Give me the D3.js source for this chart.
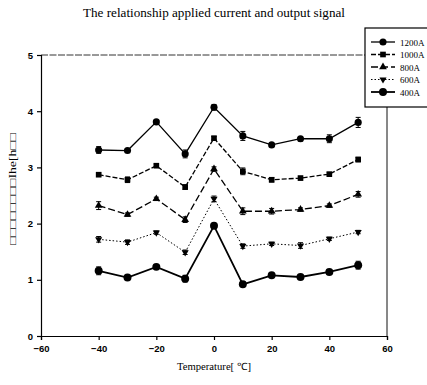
<!DOCTYPE html>
<html lang="en">
<head>
<meta charset="UTF-8">
<title>Applied current and output signal</title>
<script src="https://d3js.org/d3.v7.min.js"></script>
<style>
  body { margin: 0; background: #fff; }
  .tick text { font-family: "Liberation Sans", Arial, sans-serif; font-weight: bold; font-size: 9.5px; fill: #000; }
  .serif { font-family: "Liberation Serif", "Times New Roman", serif; fill: #000; }
</style>
</head>
<body>
<div id="chart"></div>
<script>
const temps = [-40, -30, -20, -10, 0, 10, 20, 30, 40, 50];
const seriesNames = ["1200A", "1000A", "800A", "600A", "400A"];
const s1200 = [3.31, 3.30, 3.81, 3.24, 4.07, 3.56, 3.40, 3.51, 3.51, 3.80];
const s1000 = [2.87, 2.78, 3.03, 2.65, 3.52, 2.93, 2.78, 2.81, 2.88, 3.14];
const s800  = [2.32, 2.16, 2.44, 2.07, 2.97, 2.22, 2.22, 2.25, 2.32, 2.52];
const s600  = [1.72, 1.67, 1.84, 1.49, 2.44, 1.60, 1.64, 1.61, 1.73, 1.85];
const s400  = [1.16, 1.04, 1.23, 1.02, 1.96, 0.92, 1.08, 1.05, 1.14, 1.26];
const e1200 = [0.06, 0.03, 0.03, 0.07, 0.05, 0.08, 0.03, 0.04, 0.07, 0.09];
const e1000 = [0.03, 0.05, 0.03, 0.04, 0.03, 0.06, 0.04, 0.03, 0.03, 0.04];
const e800  = [0.07, 0.03, 0.03, 0.05, 0.04, 0.06, 0.05, 0.03, 0.03, 0.05];
const e600  = [0.05, 0.04, 0.03, 0.04, 0.05, 0.04, 0.03, 0.05, 0.03, 0.03];
const e400  = [0.07, 0.03, 0.03, 0.06, 0.04, 0.04, 0.03, 0.03, 0.04, 0.07];
const xTicks = [-60, -40, -20, 0, 20, 40, 60];
const yTicks = [0, 1, 2, 3, 4, 5];

const values = [s1200, s1000, s800, s600, s400];
const errors = [e1200, e1000, e800, e600, e400];
const dashes = [null, "5,2", "7,3", "1.5,2", null];
const widths = [1.3, 1.3, 1.3, 1, 1.8];
const markers = [d3.symbolCircle, d3.symbolSquare, d3.symbolTriangle, d3.symbolTriangle, d3.symbolCircle];
const markerSize = [40, 32, 26, 22, 50];
const markerRot = [0, 0, 0, 180, 0];

const W = 427, H = 385;
const margin = { top: 55, left: 41, right: 40, bottom: 49 };
const x = d3.scaleLinear().domain([-60, 60]).range([margin.left, W - margin.right]);
const y = d3.scaleLinear().domain([0, 5]).range([H - margin.bottom, margin.top]);

const svg = d3.select("#chart").append("svg").attr("width", W).attr("height", H);

svg.append("text").attr("class", "serif")
  .attr("x", 214).attr("y", 17).attr("text-anchor", "middle")
  .attr("font-size", 11.5).attr("textLength", 262).attr("lengthAdjust", "spacingAndGlyphs")
  .text("The relationship applied current and output signal");

// frame top and right
svg.append("line").attr("x1", x(-60)).attr("x2", x(60)).attr("y1", y(5)).attr("y2", y(5))
  .attr("stroke", "#333").attr("stroke-dasharray", "7,1.5");
svg.append("line").attr("x1", x(60)).attr("x2", x(60)).attr("y1", y(5)).attr("y2", y(0))
  .attr("stroke", "#111");

const xAxis = svg.append("g").attr("transform", `translate(0,${y(0)})`)
  .call(d3.axisBottom(x).tickValues(xTicks).tickFormat(d3.format("d")).tickSize(4).tickPadding(5));
const yAxis = svg.append("g").attr("transform", `translate(${x(-60)},0)`)
  .call(d3.axisLeft(y).tickValues(yTicks).tickFormat(d3.format("d")).tickSize(4).tickPadding(4));
[xAxis, yAxis].forEach(a => { a.select(".domain").attr("stroke-width", 1.2); a.selectAll("line").attr("stroke-width", 1.2); });

svg.append("text").attr("class", "serif")
  .attr("x", 214).attr("y", 370).attr("text-anchor", "middle")
  .attr("font-size", 10).attr("textLength", 74).attr("lengthAdjust", "spacingAndGlyphs")
  .text("Temperature[ ℃]");

svg.append("text").attr("class", "serif")
  .attr("transform", "translate(16,189) rotate(-90)").attr("text-anchor", "middle")
  .attr("font-family", "DejaVu Sans").attr("fill", "#000")
  .attr("font-size", 9.5).attr("textLength", 112).attr("lengthAdjust", "spacingAndGlyphs")
  .text("□□□□□□□□Ihe[h□□");

const line = d3.line().x((d, i) => x(temps[i])).y(d => y(d));

values.forEach((vals, k) => {
  const g = svg.append("g");
  g.append("path").datum(vals).attr("d", line).attr("fill", "none")
    .attr("stroke", "#000").attr("stroke-width", widths[k])
    .attr("stroke-dasharray", dashes[k]);
  vals.forEach((v, i) => {
    const e = errors[k][i];
    g.append("path")
      .attr("d", `M${x(temps[i])},${y(v - e)}V${y(v + e)}M${x(temps[i]) - 2.5},${y(v - e)}h5M${x(temps[i]) - 2.5},${y(v + e)}h5`)
      .attr("stroke", "#000").attr("stroke-width", 1);
  });
  g.selectAll("path.m").data(vals).join("path").attr("class", "m")
    .attr("transform", (d, i) => `translate(${x(temps[i])},${y(d)}) rotate(${markerRot[k]})`)
    .attr("d", d3.symbol().type(markers[k]).size(markerSize[k]))
    .attr("fill", "#000");
});

// legend
const leg = svg.append("g").attr("transform", "translate(365,28)");
leg.append("rect").attr("width", 70).attr("height", 79).attr("fill", "#fff")
  .attr("stroke", "#000").attr("stroke-width", 1.2);
seriesNames.forEach((name, k) => {
  const yy = 14 + k * 12.5;
  leg.append("line").attr("x1", 6).attr("x2", 30).attr("y1", yy).attr("y2", yy)
    .attr("stroke", "#000").attr("stroke-width", widths[k]).attr("stroke-dasharray", dashes[k]);
  leg.append("path").attr("transform", `translate(18,${yy}) rotate(${markerRot[k]})`)
    .attr("d", d3.symbol().type(markers[k]).size(markerSize[k])).attr("fill", "#000");
  leg.append("text").attr("class", "serif").attr("x", 35).attr("y", yy + 3.5)
    .attr("font-size", 9).text(name);
});
</script>
</body>
</html>
